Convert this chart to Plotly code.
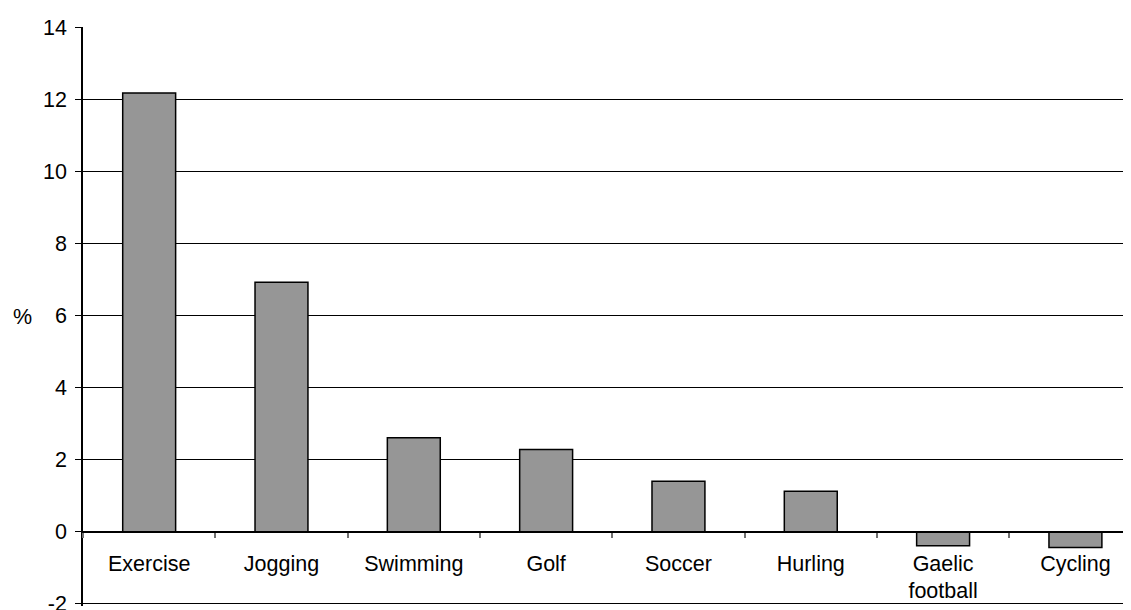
import plotly.graph_objects as go

categories = ["Exercise", "Jogging", "Swimming", "Golf", "Soccer", "Hurling", "Gaelic<br>football", "Cycling"]
values = [12.17, 6.92, 2.61, 2.28, 1.40, 1.12, -0.39, -0.44]
y_ticks = [-2, 0, 2, 4, 6, 8, 10, 12, 14]
y_tick_labels = ["-2", "0", "2", "4", "6", "8", "10", "12", "14"]

FONT = dict(family="Liberation Sans, Arial, sans-serif", size=21.5, color="black")

Y_MIN, Y_MAX = -2.06, 14.0

fig = go.Figure()
fig.add_trace(go.Bar(
    x=categories,
    y=values,
    width=0.4,
    marker=dict(color="#969696", line=dict(color="black", width=1.5)),
    showlegend=False,
))

# page body has an 8px default margin, so the figure is sized to end at the window edge
fig.update_layout(
    width=1123, height=602,
    margin=dict(l=75, r=0, t=19, b=4),
    paper_bgcolor="white", plot_bgcolor="white",
    font=FONT,
    xaxis=dict(
        type="category",
        categoryorder="array", categoryarray=categories,
        range=[-0.5, 7.42],
        tickson="boundaries",
        ticks="outside", ticklen=5, tickcolor="#707070", tickwidth=1.5,
        showline=True, linecolor="black", linewidth=1,
        showgrid=False, zeroline=False,
        anchor="free", position=(0 - Y_MIN) / (Y_MAX - Y_MIN),
        tickfont=FONT,
        ticklabelstandoff=12,
        automargin=False,
    ),
    yaxis=dict(
        range=[Y_MIN, Y_MAX],
        tickmode="array", tickvals=y_ticks, ticktext=y_tick_labels,
        ticks="outside", ticklen=6, tickcolor="black",
        showline=True, linecolor="black", linewidth=1.5,
        showgrid=True, gridcolor="black", gridwidth=1,
        zeroline=False,
        tickfont=FONT,
        ticklabelstandoff=4,
        ticklabeloverflow="allow",
        automargin=False,
    ),
    annotations=[dict(
        text="%", xref="paper", yref="paper", x=0, y=0.5,
        xanchor="center", yanchor="middle", xshift=-61,
        showarrow=False, font=FONT,
    )],
)

fig.write_html("out.html")
